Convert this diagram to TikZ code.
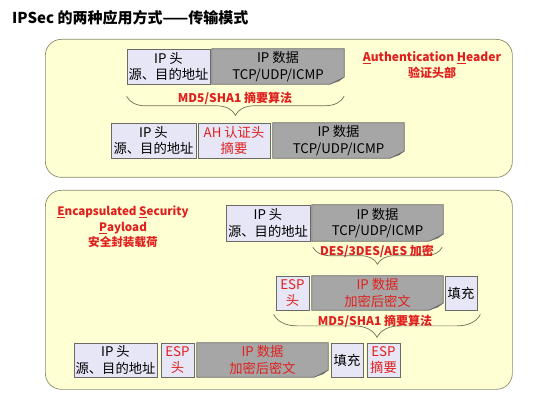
\documentclass[tikz,border=0pt]{standalone}
\usepackage{fontspec}
\setmainfont{Noto Sans CJK SC}
\usetikzlibrary{decorations.pathreplacing}
\definecolor{panelfill}{HTML}{FFFFD4}
\definecolor{paneldraw}{HTML}{8C8C6C}
\definecolor{lightbox}{HTML}{E6E6F6}
\definecolor{graybox}{HTML}{A6A6A6}
\definecolor{darkfold}{HTML}{6E6E6E}
\definecolor{redtext}{HTML}{E0201E}
\definecolor{boxline}{HTML}{6A6A6A}
\newcommand\foldbox[1]{%
  \fill[graybox,draw=boxline,line width=0.7pt] (#1.north west) -- (#1.north east) -- ([yshift=7pt]#1.south east) -- ([xshift=-14pt]#1.south east) -- (#1.south west) -- cycle;
  \fill[darkfold] ([xshift=-14pt]#1.south east) -- ([yshift=7pt]#1.south east) -- ([xshift=-5pt,yshift=3pt]#1.south east) -- cycle;}
\begin{document}
\begin{tikzpicture}[x=1pt,y=-1pt,
  panel/.style={draw=paneldraw,fill=panelfill,rounded corners=16pt,line width=0.7pt,minimum width=467pt,anchor=north west,inner sep=0pt},
  lbox/.style={draw=boxline,fill=lightbox,line width=0.7pt,minimum height=35pt,inner sep=0pt,align=center,font=\fontsize{13.3}{16.5}\selectfont},
  gbox/.style={minimum height=35pt,inner sep=0pt,align=center,font=\fontsize{13.3}{16.5}\selectfont},
  redlbl/.style={text=redtext,font=\fontsize{12}{16}\selectfont\bfseries,align=center,inner sep=0pt},
  bracestyle/.style={draw=paneldraw!80!black,line width=0.7pt,decorate,decoration={brace,mirror,amplitude=#1}}
]
\useasboundingbox (0,0) rectangle (547,401);
\node[anchor=west,font=\fontsize{15}{18}\selectfont\bfseries,inner sep=0pt] (title) at (12,18) {IPSec 的两种应用方式——传输模式};

% Panel 1 : AH
\node[panel,minimum height=138pt] (p1) at (45,39) {};
\node[lbox,minimum width=83pt] (a1ip) at (168.5,66.5) {IP 头\\源、目的地址};
\node[gbox,minimum width=132pt] (a1data) at (278,66.5) {};
\foldbox{a1data}
\node[gbox,minimum width=132pt] at (a1data) {IP 数据\\TCP/UDP/ICMP};
\node[redlbl] (ahlbl) at (432,65.5) {\underline{A}uthentication \underline{H}eader\\验证头部};
\draw[bracestyle=19pt] ([yshift=-12pt]a1ip.south west) -- ([yshift=-12pt]a1data.south east);
\node[redlbl] (md1) at (235,98) {MD5/SHA1 摘要算法};
\node[lbox,minimum width=85pt] (a2ip) at (153.5,140.5) {IP 头\\源、目的地址};
\node[lbox,minimum width=72pt,text=redtext] (a2ah) at (234,140.5) {AH 认证头\\摘要};
\node[gbox,minimum width=131pt] (a2data) at (338.5,140.5) {};
\foldbox{a2data}
\node[gbox,minimum width=131pt] at (a2data) {IP 数据\\TCP/UDP/ICMP};

% Panel 2 : ESP
\node[panel,minimum height=199pt] (p2) at (45,190) {};
\node[redlbl,font=\fontsize{11.6}{16}\selectfont\bfseries] (esplbl) at (123,227) {\underline{E}ncapsulated \underline{S}ecurity\\\underline{P}ayload\\[-1pt]安全封装载荷};
\node[lbox,minimum width=84pt,minimum height=36pt] (e1ip) at (268,223) {IP 头\\源、目的地址};
\node[gbox,minimum width=131pt,minimum height=36pt] (e1data) at (377.5,223) {};
\foldbox{e1data}
\node[gbox,minimum width=131pt] at (e1data) {IP 数据\\TCP/UDP/ICMP};
\draw[bracestyle=17pt] ([xshift=1pt,yshift=-6pt]e1data.south west) -- ([xshift=-1pt,yshift=-6pt]e1data.south east);
\node[redlbl] (enc) at (377,251) {DES/3DES/AES 加密};
\node[lbox,minimum width=33pt,minimum height=34pt,text=redtext] (e2esp) at (292.5,293) {ESP\\头};
\node[gbox,minimum width=131pt,minimum height=34pt] (e2data) at (377.5,293) {};
\foldbox{e2data}
\node[gbox,minimum width=131pt,text=redtext] at (e2data) {IP 数据\\加密后密文};
\node[lbox,minimum width=32pt,minimum height=34pt] (e2pad) at (461,293) {填充};
\draw[bracestyle=23pt] ([xshift=-2pt,yshift=-4pt]e2esp.south west) -- ([xshift=3pt,yshift=-4pt]e2pad.south east);
\node[redlbl] (md2) at (375,321) {MD5/SHA1 摘要算法};
\node[lbox,minimum width=83pt,minimum height=34pt] (e3ip) at (115.5,360) {IP 头\\源、目的地址};
\node[lbox,minimum width=33pt,minimum height=34pt,text=redtext] (e3esp) at (177.5,360) {ESP\\头};
\node[gbox,minimum width=131pt,minimum height=34pt] (e3data) at (262.5,360) {};
\foldbox{e3data}
\node[gbox,minimum width=131pt,text=redtext] at (e3data) {IP 数据\\加密后密文};
\node[lbox,minimum width=32pt,minimum height=34pt] (e3pad) at (347,360) {填充};
\node[lbox,minimum width=33pt,minimum height=34pt,text=redtext] (e3auth) at (383.5,360) {ESP\\摘要};
\end{tikzpicture}
\end{document}
